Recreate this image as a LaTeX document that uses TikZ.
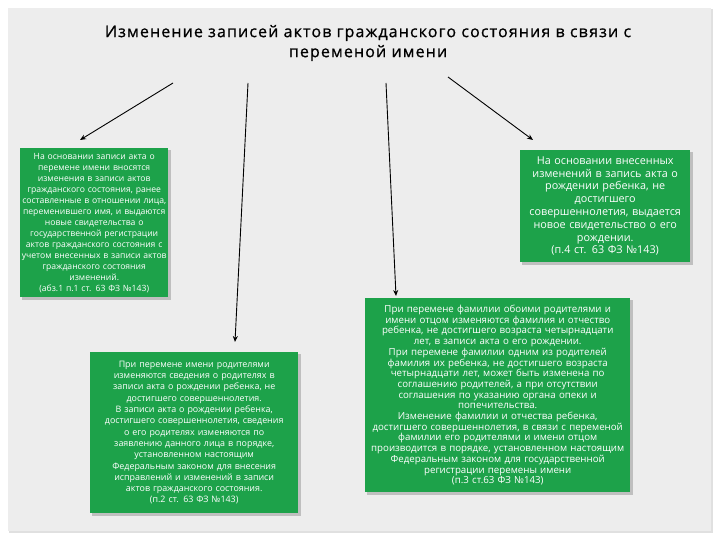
\documentclass[tikz,border=0pt]{standalone}
\usepackage{fontspec}
\setmainfont{Open Sans}
\usetikzlibrary{arrows.meta}
\definecolor{gbox}{HTML}{1DA24A}
\definecolor{panel}{HTML}{EDEDED}
\tikzset{
 gb/.style={fill=gbox, text=white, align=center, inner sep=1pt, anchor=north west, minimum width=#1, text width=#1-2pt},
 sh/.style={fill=black!25},
 arr/.style={draw=black, line width=0.9pt, -{Stealth[length=6pt,width=5pt]}},
}
\begin{document}
\begin{tikzpicture}[x=1pt,y=-1pt]
\useasboundingbox (0,0) rectangle (720,540);
\fill[white] (0,0) rectangle (720,540);
\fill[black!12] (9,9) rectangle (713,533);
\fill[panel] (8,8) rectangle (711,531);
\node[font=\fontsize{16}{20}\selectfont\addfontfeature{LetterSpace=7,FakeBold=0.8}, text=black, align=center] (title) at (368,43) {Изменение записей актов гражданского состояния в связи с\\ переменой имени};
\fill[sh] (22,150) rectangle (171,300);
\node[gb=148pt, minimum height=149pt, font=\fontsize{8.6}{11}\selectfont] (b1) at (20,148) {На основании записи акта о\\ перемене имени вносятся\\ изменения в записи актов\\ гражданского состояния, ранее\\ составленные в отношении лица,\\ переменившего имя, и выдаются\\ новые свидетельства о\\ государственной регистрации\\ актов гражданского состояния с\\ учетом внесенных в записи актов\\ гражданского состояния\\ изменений.\\ (абз.1 п.1 ст. 63 ФЗ №143)};
\fill[sh] (92,354) rectangle (301,516);
\node[gb=208pt, minimum height=161pt, font=\fontsize{8.9}{11.3}\selectfont] (b2) at (90,352) {При перемене имени родителями\\ изменяются сведения о родителях в\\ записи акта о рождении ребенка, не\\ достигшего совершеннолетия.\\ В записи акта о рождении ребенка,\\ достигшего совершеннолетия, сведения\\ о его родителях изменяются по\\ заявлению данного лица в порядке,\\ установленном настоящим\\ Федеральным законом для внесения\\ исправлений и изменений в записи\\ актов гражданского состояния.\\ (п.2 ст. 63 ФЗ №143)};
\fill[sh] (367,300) rectangle (633,495);
\node[gb=265pt, minimum height=194pt, font=\fontsize{9.7}{10.7}\selectfont] (b3) at (365,298) {При перемене фамилии обоими родителями и\\ имени отцом изменяются фамилия и отчество\\ ребенка, не достигшего возраста четырнадцати\\ лет, в записи акта о его рождении.\\ При перемене фамилии одним из родителей\\ фамилия их ребенка, не достигшего возраста\\ четырнадцати лет, может быть изменена по\\ соглашению родителей, а при отсутствии\\ соглашения по указанию органа опеки и\\ попечительства.\\ Изменение фамилии и отчества ребенка,\\ достигшего совершеннолетия, в связи с переменой\\ фамилии его родителями и имени отцом\\ производится в порядке, установленном настоящим\\ Федеральным законом для государственной\\ регистрации перемены имени\\ (п.3 ст.63 ФЗ №143)};
\fill[sh] (522,152) rectangle (693,265);
\node[gb=170pt, minimum height=112pt, font=\fontsize{10.8}{12.8}\selectfont] (b4) at (520,150) {На основании внесенных\\ изменений в запись акта о\\ рождении ребенка, не\\ достигшего\\ совершеннолетия, выдается\\ новое свидетельство о его\\ рождении.\\ (п.4 ст. 63 ФЗ №143)};
\coordinate (s1) at (173,83); \coordinate (e1) at (80,140);
\coordinate (s2) at (248,83); \coordinate (e2) at (235,342);
\coordinate (s3) at (386,83); \coordinate (e3) at (396,296);
\coordinate (s4) at (448,77); \coordinate (e4) at (533,140);
\draw[arr] (s1) -- (e1);
\draw[arr] (s2) -- (e2);
\draw[arr] (s3) -- (e3);
\draw[arr] (s4) -- (e4);
\end{tikzpicture}
\end{document}
